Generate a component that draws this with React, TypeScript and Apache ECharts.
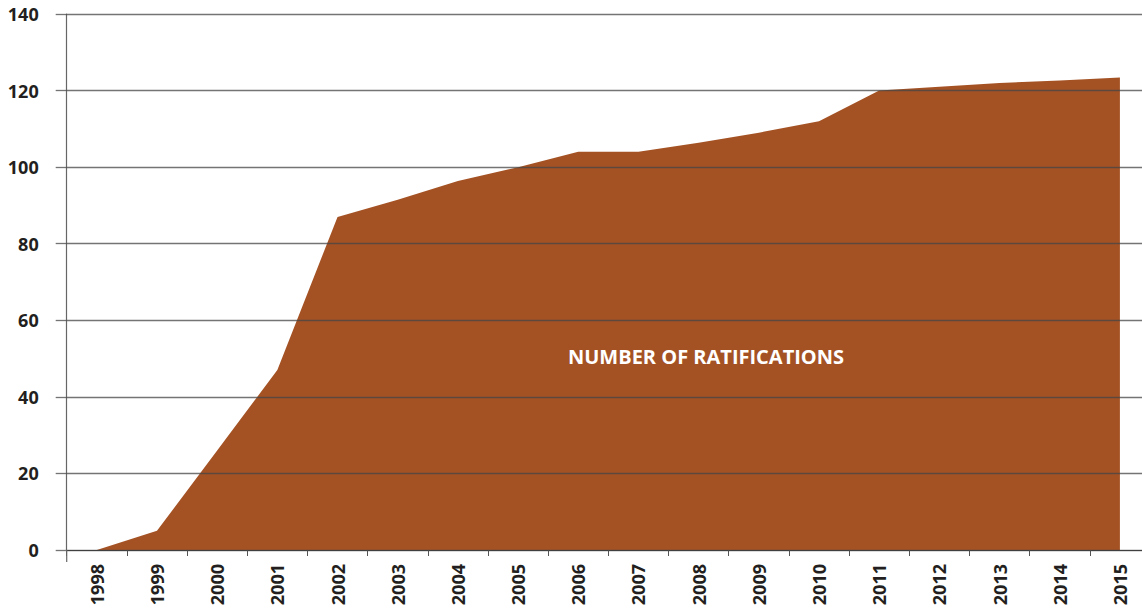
import React, { useEffect, useRef } from "react";
import * as echarts from "echarts";

const years = ["1998","1999","2000","2001","2002","2003","2004","2005","2006","2007","2008","2009","2010","2011","2012","2013","2014","2015"];
const ratifications = [0, 5, 26, 47, 87, 91.5, 96.4, 100, 104, 104, 106.4, 109, 112, 120, 121, 122, 122.6, 123.4];
const yTicks = { min: 0, max: 140, interval: 20 };
const seriesLabel = "NUMBER OF RATIFICATIONS";

export default function App() {
  const ref = useRef<HTMLDivElement>(null);
  useEffect(() => {
    if (!ref.current) return;
    const chart = echarts.init(ref.current, null, { renderer: "svg" });
    const font = "'Open Sans', 'Noto Sans', sans-serif";
    chart.setOption({
      animation: false,
      grid: { left: 66.7, right: 0, top: 14, bottom: 60, containLabel: false },
      xAxis: {
        type: "category",
        data: years,
        boundaryGap: true,
        axisLine: { show: true, lineStyle: { color: "#333", width: 1.2 } },
        axisTick: { show: true, length: 6, lineStyle: { color: "#555", width: 1 } },
        axisLabel: {
          rotate: 90,
          margin: 14,
          color: "#231f20",
          fontFamily: font,
          fontWeight: "bold",
          fontSize: 18,
        },
        splitLine: { show: false },
      },
      yAxis: {
        type: "value",
        min: yTicks.min,
        max: yTicks.max,
        interval: yTicks.interval,
        z: 5,
        axisLine: { show: true, lineStyle: { color: "#666", width: 1.2 } },
        axisTick: { show: true, length: 11, lineStyle: { color: "rgba(70,70,70,0.75)", width: 1.3 } },
        axisLabel: {
          margin: 28,
          color: "#231f20",
          fontFamily: font,
          fontWeight: "bold",
          fontSize: 18,
        },
        splitLine: { show: true, lineStyle: { color: "rgba(70,70,70,0.75)", width: 1.3 } },
      },
      series: [
        {
          name: seriesLabel,
          type: "line",
          data: ratifications,
          symbol: "none",
          z: 1,
          lineStyle: { width: 0 },
          areaStyle: { color: "#a45224", opacity: 1 },
        },
      ],
      graphic: [
        {
          type: "text",
          x: 706,
          y: 356,
          z: 10,
          style: {
            text: seriesLabel,
            fill: "#ffffff",
            font: "bold 20px 'Open Sans', 'Noto Sans', sans-serif",
            textAlign: "center",
            textVerticalAlign: "middle",
          },
        },
        {
          type: "line",
          z: 10,
          shape: { x1: 66.7, y1: 550, x2: 66.7, y2: 562 },
          style: { stroke: "#666", lineWidth: 1.2 },
        },
      ],
    });
    return () => chart.dispose();
  }, []);
  return (
    <div
      ref={ref}
      style={{ position: "fixed", left: 0, top: 0, width: 1150, height: 610, background: "#fff" }}
    />
  );
}
